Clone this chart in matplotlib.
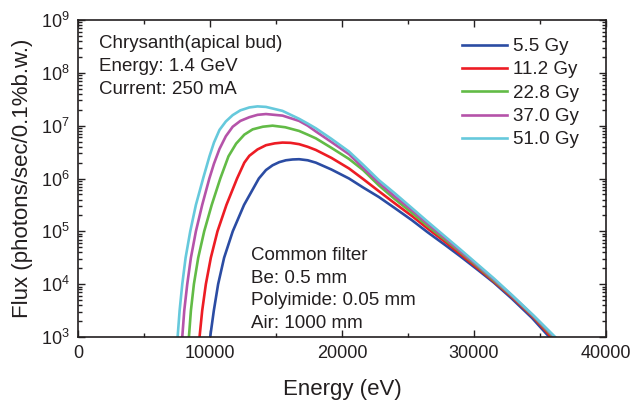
import numpy as np
import matplotlib
matplotlib.use("Agg")
import matplotlib.pyplot as plt
from matplotlib.ticker import LogLocator, MultipleLocator, NullFormatter

plt.rcParams["font.family"] = ["Liberation Sans", "DejaVu Sans"]
plt.rcParams["mathtext.fontset"] = "custom"
plt.rcParams["mathtext.rm"] = "Liberation Sans"
plt.rcParams["mathtext.it"] = "Liberation Sans:italic"

TXT = "#231f20"

# energies (eV) and log10(flux), one pair per dose
e_55 = [10013, 10290, 10616, 11069, 11723, 12579, 13700, 14240, 14740, 15250,
        15750, 16250, 16750, 17400, 18020, 19200, 20530, 21600, 22790, 24000,
        25300, 26500, 27820, 29000, 30340, 31500, 32850, 34400, 35700]
lf_55 = [3.0, 3.5, 4.0, 4.5, 5.0, 5.5, 6.0, 6.16, 6.25, 6.31,
         6.345, 6.36, 6.365, 6.345, 6.30, 6.17, 6.0, 5.83, 5.65, 5.44,
         5.21, 4.98, 4.74, 4.52, 4.26, 4.03, 3.73, 3.36, 3.0]

e_112 = [9208, 9409, 9686, 10063, 10566, 11245, 12050, 12600, 12980, 13600,
         14240, 14900, 15490, 16100, 16750, 17400, 18020, 19200, 20530, 21600,
         22790, 24000, 25300, 26500, 27820, 29000, 30340, 31500, 32850, 34500, 35850]
lf_112 = [3.0, 3.5, 4.0, 4.5, 5.0, 5.5, 6.0, 6.3, 6.43, 6.55,
          6.63, 6.665, 6.68, 6.675, 6.65, 6.60, 6.54, 6.39, 6.19, 5.99,
          5.76, 5.53, 5.29, 5.05, 4.80, 4.56, 4.29, 4.05, 3.76, 3.37, 3.0]

e_228 = [8403, 8553, 8780, 9107, 9560, 10130, 10780, 11400, 11980, 12600,
         13230, 14000, 14740, 15700, 16750, 17400, 18020, 19200, 20530, 21600,
         22790, 24000, 25300, 26500, 27820, 29000, 30340, 31500, 32850, 34500, 36000]
lf_228 = [3.0, 3.5, 4.0, 4.5, 5.0, 5.5, 6.0, 6.42, 6.66, 6.83,
          6.93, 6.98, 7.0, 6.97, 6.9, 6.83, 6.76, 6.58, 6.37, 6.16,
          5.87, 5.61, 5.35, 5.10, 4.84, 4.60, 4.32, 4.07, 3.78, 3.39, 3.0]

e_370 = [7899, 8050, 8277, 8553, 8931, 9409, 9950, 10300, 10720, 11200,
         11720, 12300, 12980, 13600, 14240, 15500, 16750, 17400, 18020, 19200,
         20530, 21600, 22790, 24000, 25300, 26500, 27820, 29000, 30340, 31500,
         32850, 34500, 36080]
lf_370 = [3.0, 3.5, 4.0, 4.5, 5.0, 5.5, 6.0, 6.28, 6.56, 6.8,
          6.98, 7.09, 7.16, 7.205, 7.22, 7.19, 7.09, 7.0, 6.89, 6.69,
          6.46, 6.2, 5.92, 5.66, 5.40, 5.14, 4.87, 4.62, 4.34, 4.09,
          3.79, 3.40, 3.0]

e_510 = [7547, 7698, 7899, 8151, 8503, 8931, 9500, 9960, 10300, 10720,
         11200, 11720, 12300, 12980, 13600, 14240, 15490, 16750, 17400, 18020,
         19200, 20530, 21600, 22790, 24000, 25300, 26500, 27820, 29000, 30340,
         31500, 32850, 34500, 36150]
lf_510 = [3.0, 3.5, 4.0, 4.5, 5.0, 5.5, 6.02, 6.42, 6.68, 6.92,
          7.08, 7.2, 7.29, 7.345, 7.365, 7.355, 7.28, 7.13, 7.04, 6.95,
          6.75, 6.51, 6.26, 5.97, 5.72, 5.44, 5.18, 4.90, 4.65, 4.36,
          4.11, 3.80, 3.41, 3.0]

labels = ["5.5 Gy", "11.2 Gy", "22.8 Gy", "37.0 Gy", "51.0 Gy"]
colors = ["#2b4ca3", "#ed1c24", "#62bb46", "#b553a9", "#66c9dc"]
series = [(e_55, lf_55), (e_112, lf_112), (e_228, lf_228),
          (e_370, lf_370), (e_510, lf_510)]

W, H = 638, 401
fig = plt.figure(figsize=(W / 100, H / 100), dpi=100)
ax = fig.add_axes([78 / W, 1 - 337 / H, (606 - 78) / W, (337 - 20) / H])

for (e, lf), lab, c in zip(series, labels, colors):
    ax.plot(e, 10 ** np.array(lf), color=c, lw=1.9, label=lab,
            solid_joinstyle="round")

ax.set_yscale("log")
ax.set_xlim(0, 40000)
ax.set_ylim(1e3, 1e9)
ax.xaxis.set_major_locator(MultipleLocator(10000))
ax.xaxis.set_minor_locator(MultipleLocator(5000))
ax.yaxis.set_major_locator(LogLocator(base=10, numticks=10))
ax.yaxis.set_minor_locator(LogLocator(base=10, subs=np.arange(2, 10), numticks=100))
ax.yaxis.set_minor_formatter(NullFormatter())

ax.tick_params(which="both", direction="in", top=True, right=True,
               colors=TXT, labelcolor=TXT, width=1.0)
ax.tick_params(which="major", length=5, labelsize=13, pad=6)
ax.tick_params(which="minor", length=3)
for s in ax.spines.values():
    s.set_linewidth(1.2)
    s.set_color(TXT)

ax.set_xlabel("Energy (eV)", fontsize=16, color=TXT, labelpad=12)
ax.set_ylabel("Flux (photons/sec/0.1%b.w.)", fontsize=16, color=TXT, labelpad=6)

leg = ax.legend(loc="upper left", bbox_to_anchor=(462 / W, 1 - 38 / H),
                bbox_transform=fig.transFigure, frameon=False, fontsize=13.5,
                handlelength=2.4, handletextpad=0.3, labelspacing=0.33,
                borderpad=0, borderaxespad=0)
for t in leg.get_texts():
    t.set_color(TXT)

for i, line in enumerate(["Chrysanth(apical bud)", "Energy: 1.4 GeV", "Current: 250 mA"]):
    fig.text(99 / W, 1 - (48.5 + 22.8 * i) / H, line, fontsize=13.5, color=TXT,
             va="baseline", ha="left")

for i, line in enumerate(["Common filter", "Be: 0.5 mm", "Polyimide: 0.05 mm", "Air: 1000 mm"]):
    fig.text(251.5 / W, 1 - (260 + 22.7 * i) / H, line, fontsize=13.5, color=TXT,
             va="baseline", ha="left")

fig.savefig("out.png", dpi=100)
